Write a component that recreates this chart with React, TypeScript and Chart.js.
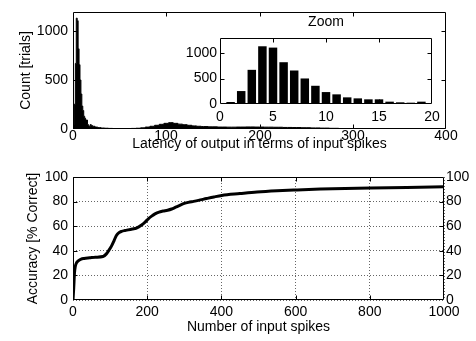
import React, { useEffect, useRef } from 'react';
import { Chart, registerables } from 'chart.js';

Chart.register(...registerables);

const FONT = "'Liberation Sans', Arial, Helvetica, sans-serif";

// ---- Top histogram: latency of output (in input spikes) ----
const latencyBins = [
  0, 1, 2, 3, 4, 5, 6, 7, 8, 9, 10, 11, 12, 13, 14, 15, 16, 17, 18, 19, 20,
  22, 25, 28, 32, 36, 40,
  45, 50, 55, 60, 65, 70, 75, 80, 85, 90, 95, 100, 105, 110, 115, 120, 125, 130, 135, 140,
  150, 160, 170, 180, 190, 200, 210, 220, 230, 240, 250, 260, 270, 280, 290, 300, 310, 320, 330,
  350, 400,
];
const latencyCounts = [
  0, 40, 255, 673, 1137, 1111, 823, 660, 503, 359, 235, 190, 131, 111, 92, 92, 46, 33, 26, 46, 35,
  28, 20, 14, 10, 8, 6,
  4, 4, 5, 5, 6, 8, 12, 20, 28, 38, 48, 58, 65, 58, 50, 44, 38, 32, 28, 25,
  22, 20, 19, 20, 21, 20, 19, 18, 16, 15, 13, 11, 9, 7, 5, 3, 2, 1, 1,
  0, 0,
];
const countTicks = [0, 500, 1000];
const latencyTicks = [0, 100, 200, 300, 400];

// ---- Inset "Zoom" histogram ----
const zoomBins = [1, 2, 3, 4, 5, 6, 7, 8, 9, 10, 11, 12, 13, 14, 15, 16, 17, 18, 19];
const zoomCounts = [40, 255, 673, 1137, 1111, 823, 660, 503, 359, 235, 190, 131, 111, 92, 92, 46, 33, 26, 46];
const zoomXTicks = [0, 5, 10, 15, 20];

// ---- Bottom: accuracy vs number of input spikes ----
const spikes = [
  0, 2, 4, 6, 10, 15, 22, 30, 45, 60, 81, 90, 97, 104, 111, 117, 124, 131, 140, 149, 160,
  171, 185, 195, 203, 212, 221, 232, 243, 255, 266, 277, 288, 300, 311, 325, 338, 360, 380,
  401, 450, 496, 550, 604, 667, 700, 802, 900, 1000,
];
const accuracy = [
  0, 10, 22, 27, 30.5, 32, 33.3, 33.8, 34.3, 34.8, 35.3, 37.5, 40.5, 44, 48.5, 52.5, 54.8, 55.8, 56.5, 57, 57.7,
  58.5, 61, 63.5, 66, 68.2, 70, 71.5, 72.3, 73, 74, 75.5, 77, 78.5, 79.4, 80.2, 81, 82.5, 83.8,
  85, 86.5, 87.8, 88.8, 89.5, 90.2, 90.5, 91, 91.5, 92,
];
const spikeTicks = [0, 200, 400, 600, 800, 1000];
const accTicks = [0, 20, 40, 60, 80, 100];

const setTicks = (vals: number[]) => (s: any) => {
  s.ticks = vals.map((v) => ({ value: v }));
};

// Frame box + inward (MATLAB-style) tick marks on all four sides
const framePlugin = {
  id: 'frameTicks',
  afterDraw(chart: any) {
    const { ctx, chartArea: a } = chart;
    const L = Math.round(a.left) + 0.5;
    const R = Math.round(a.right) - 0.5;
    const T = Math.round(a.top) + 0.5;
    const B = Math.round(a.bottom) - 0.5;
    const len = 4;
    ctx.save();
    ctx.strokeStyle = '#000';
    ctx.lineWidth = 1;
    ctx.setLineDash([]);
    ctx.beginPath();
    ctx.rect(L, T, R - L, B - T);
    const xs = chart.scales.x;
    const ys = chart.scales.y;
    for (const t of xs.ticks) {
      const p = Math.round(xs.getPixelForValue(t.value)) + 0.5;
      if (p <= L + 1 || p >= R - 1) continue;
      ctx.moveTo(p, B);
      ctx.lineTo(p, B - len);
      ctx.moveTo(p, T);
      ctx.lineTo(p, T + len);
    }
    for (const t of ys.ticks) {
      const p = Math.round(ys.getPixelForValue(t.value)) + 0.5;
      if (p <= T + 1 || p >= B - 1) continue;
      ctx.moveTo(L, p);
      ctx.lineTo(L + len, p);
      ctx.moveTo(R, p);
      ctx.lineTo(R - len, p);
    }
    ctx.stroke();
    ctx.restore();
  },
};

// x tick labels placed through the x scale, drawn before the chart body
const makeXLabels = (id: string, values: number[], offset: number) => ({
  id,
  beforeDraw(chart: any) {
    const { ctx, chartArea: a } = chart;
    const xs = chart.scales.x;
    ctx.save();
    ctx.fillStyle = '#000';
    ctx.font = `14px ${FONT}`;
    ctx.textAlign = 'center';
    ctx.textBaseline = 'middle';
    values.forEach((v) => {
      ctx.fillText(String(v), Math.round(xs.getPixelForValue(v)), a.bottom + offset);
    });
    ctx.restore();
  },
});

const zoomTitlePlugin = {
  id: 'zoomTitle',
  beforeDraw(chart: any) {
    const { ctx, chartArea: a } = chart;
    ctx.save();
    ctx.fillStyle = '#fff';
    ctx.fillRect(a.left, a.top, a.right - a.left, a.bottom - a.top);
    ctx.restore();
  },
  afterDraw(chart: any) {
    const { ctx, chartArea: a } = chart;
    ctx.save();
    ctx.fillStyle = '#000';
    ctx.font = `14px ${FONT}`;
    ctx.textAlign = 'center';
    ctx.textBaseline = 'middle';
    ctx.fillText('Zoom', (a.left + a.right) / 2, a.top - 16);
    ctx.restore();
  },
};

const tickFont = { family: FONT, size: 14, lineHeight: 1 };
const titleFont = { family: FONT, size: 14 };
const tickBase = { color: '#000', font: tickFont, autoSkip: false, maxRotation: 0, minRotation: 0, callback: (v: any) => String(v) };
const noGrid = { display: false, drawTicks: false };
const base = {
  animation: false as const,
  responsive: false,
  events: [] as any[],
  plugins: { legend: { display: false }, tooltip: { enabled: false } },
};

export default function App() {
  const mainRef = useRef<HTMLCanvasElement>(null);
  const zoomRef = useRef<HTMLCanvasElement>(null);
  const accRef = useRef<HTMLCanvasElement>(null);

  useEffect(() => {
    Chart.defaults.font.family = FONT;
    Chart.defaults.color = '#000';

    const main = new Chart(mainRef.current!, {
      type: 'line',
      data: {
        datasets: [
          {
            data: latencyBins.map((x, i) => ({ x, y: latencyCounts[i] })),
            stepped: 'middle',
            fill: 'origin',
            backgroundColor: '#000',
            borderColor: '#000',
            borderWidth: 1,
            pointRadius: 0,
          },
        ],
      },
      options: {
        ...base,
        layout: { padding: { left: 0, right: 30, top: 7, bottom: 0 } },
        scales: {
          x: {
            type: 'linear',
            min: 0,
            max: 400,
            afterBuildTicks: setTicks(latencyTicks),
            ticks: { ...tickBase, display: false },
            grid: noGrid,
            border: { display: false },
            title: {
              display: true,
              text: 'Latency of output in terms of input spikes',
              color: '#000',
              font: titleFont,
              padding: { top: 0, bottom: 7.8 },
            },
            afterFit: (s: any) => {
              s.height = 31;
            },
          },
          y: {
            type: 'linear',
            min: 0,
            max: 1200,
            afterBuildTicks: setTicks(countTicks),
            ticks: { ...tickBase, padding: 5 },
            grid: noGrid,
            border: { display: false },
            title: {
              display: true,
              text: 'Count [trials]',
              color: '#000',
              font: titleFont,
              padding: { top: 17.4, bottom: 0 },
            },
            afterFit: (s: any) => {
              s.width = 73;
            },
          },
        },
      } as any,
      plugins: [makeXLabels('mainXLabels', latencyTicks, 7), framePlugin],
    });

    const zoom = new Chart(zoomRef.current!, {
      type: 'bar',
      data: {
        datasets: [
          {
            data: zoomBins.map((x, i) => ({ x, y: zoomCounts[i] })),
            backgroundColor: '#000',
            borderWidth: 0,
            barPercentage: 0.8,
            categoryPercentage: 1,
          },
        ],
      },
      options: {
        ...base,
        layout: { padding: { left: 180, right: 44, top: 38, bottom: 0 } },
        scales: {
          x: {
            type: 'linear',
            min: 0,
            max: 20,
            offset: false,
            afterBuildTicks: setTicks(zoomXTicks),
            ticks: { ...tickBase, display: false },
            grid: { ...noGrid, offset: false },
            border: { display: false },
            afterFit: (s: any) => {
              s.height = 21;
            },
          },
          y: {
            type: 'linear',
            min: 0,
            max: 1300,
            afterBuildTicks: setTicks(countTicks),
            ticks: { ...tickBase, padding: 3 },
            grid: noGrid,
            border: { display: false },
            afterFit: (s: any) => {
              s.width = 40;
            },
          },
        },
      } as any,
      plugins: [zoomTitlePlugin, makeXLabels('zoomXLabels', zoomXTicks, 12.7), framePlugin],
    });

    const gridOpts = { color: 'rgba(0,0,0,0.6)', drawTicks: false, lineWidth: 1 };
    const acc = new Chart(accRef.current!, {
      type: 'line',
      data: {
        datasets: [
          {
            data: spikes.map((x, i) => ({ x, y: accuracy[i] })),
            borderColor: '#000',
            borderWidth: 3,
            pointRadius: 0,
            cubicInterpolationMode: 'monotone',
            fill: false,
          },
        ],
      },
      options: {
        ...base,
        layout: { padding: { left: 0, right: 0, top: 17, bottom: 0 } },
        scales: {
          x: {
            type: 'linear',
            min: 0,
            max: 1000,
            afterBuildTicks: setTicks(spikeTicks),
            ticks: { ...tickBase, padding: 5 },
            grid: gridOpts,
            border: { display: false, dash: [1, 2] },
            title: {
              display: true,
              text: 'Number of input spikes',
              color: '#000',
              font: titleFont,
              padding: { top: 0, bottom: 5.1 },
            },
            afterFit: (s: any) => {
              s.height = 41;
            },
          },
          y: {
            type: 'linear',
            min: 0,
            max: 100,
            afterBuildTicks: setTicks(accTicks),
            ticks: { ...tickBase, padding: 5 },
            grid: gridOpts,
            border: { display: false, dash: [1, 2] },
            title: {
              display: true,
              text: 'Accuracy [% Correct]',
              color: '#000',
              font: titleFont,
              padding: { top: 24.4, bottom: 0 },
            },
            afterFit: (s: any) => {
              s.width = 73;
            },
          },
          y2: {
            type: 'linear',
            position: 'right',
            min: 0,
            max: 100,
            afterBuildTicks: setTicks(accTicks),
            ticks: { ...tickBase, padding: 2 },
            grid: noGrid,
            border: { display: false },
            afterFit: (s: any) => {
              s.width = 32;
            },
          },
        },
      } as any,
      plugins: [framePlugin],
    });

    return () => {
      main.destroy();
      zoom.destroy();
      acc.destroy();
    };
  }, []);

  return (
    <div style={{ position: 'absolute', left: 0, top: 0, width: 476, height: 341, background: '#fff' }}>
      <canvas ref={mainRef} width={476} height={160} style={{ position: 'absolute', left: 0, top: 0 }} />
      <canvas ref={zoomRef} width={476} height={125} style={{ position: 'absolute', left: 0, top: 0 }} />
      <canvas ref={accRef} width={476} height={181} style={{ position: 'absolute', left: 0, top: 160 }} />
    </div>
  );
}
